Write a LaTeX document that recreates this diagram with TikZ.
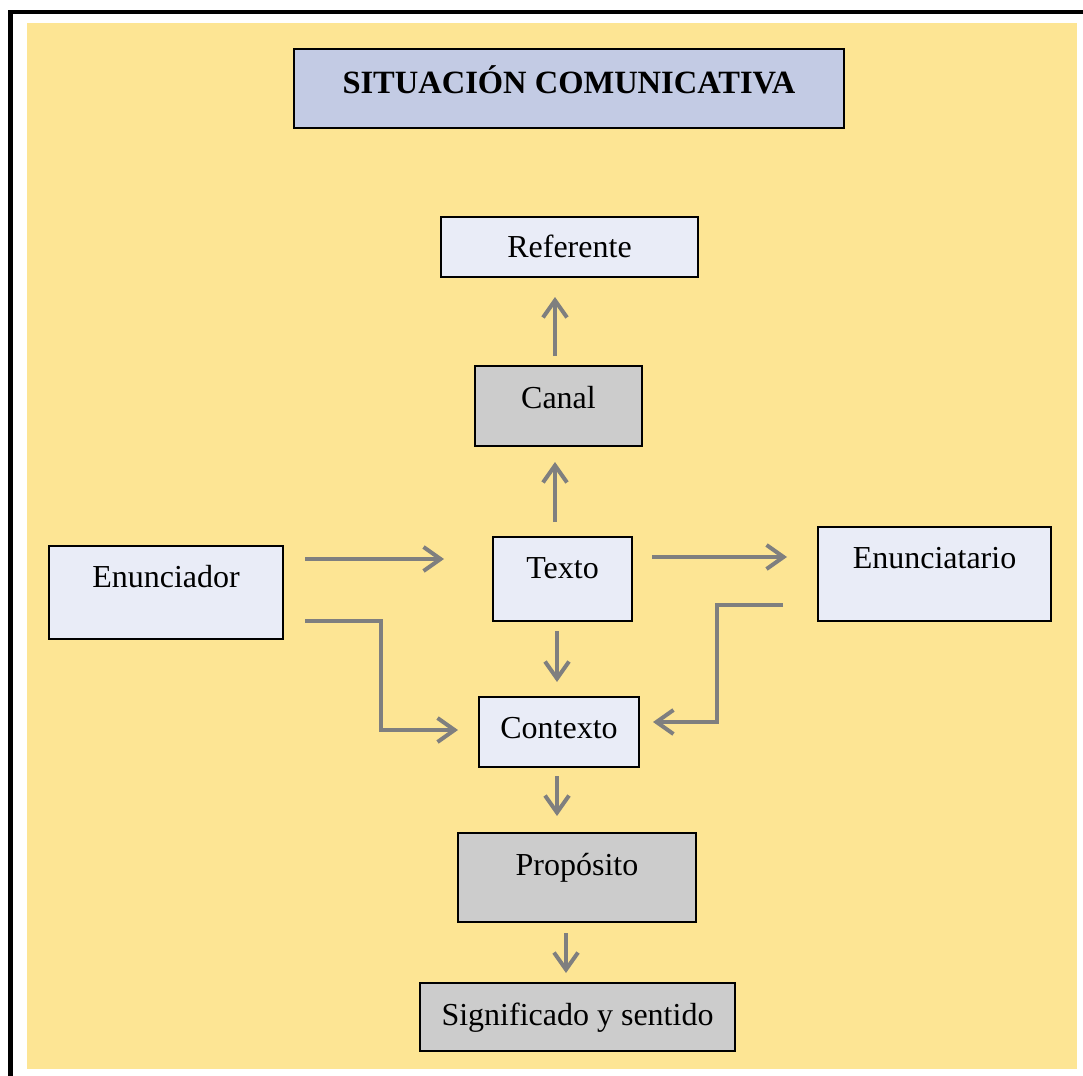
\documentclass[tikz,border=0pt]{standalone}
\usepackage{fontspec}
\setmainfont{Liberation Serif}
\usetikzlibrary{arrows.meta,calc}
\definecolor{bgyellow}{RGB}{253,229,148}
\definecolor{titleblue}{RGB}{195,203,228}
\definecolor{lightbox}{RGB}{233,236,247}
\definecolor{graybox}{RGB}{204,204,204}
\definecolor{arrowgray}{RGB}{127,127,127}
\tikzset{
  box/.style={draw=black, line width=2pt, inner sep=0pt, outer sep=0pt, anchor=base,
    font=\fontsize{32}{38}\selectfont, align=center},
  lbox/.style={box, fill=lightbox},
  gbox/.style={box, fill=graybox},
  tbox/.style={box, fill=titleblue, font=\fontsize{32.5}{38}\selectfont\bfseries},
  arr/.style={draw=arrowgray, line width=4pt,
    -{Straight Barb[length=17pt,width=24pt]}},
}
\begin{document}
\begin{tikzpicture}[x=1pt,y=-1pt]
  \useasboundingbox (0,0) rectangle (1083,1075);
  \fill[white] (0,0) rectangle (1083,1075);
  \draw[line width=4.5pt, black] (10.5,1080) -- (10.5,12) -- (1090,12);
  \fill[bgyellow] (27,23) rectangle (1077,1069);

  % boxes: anchor=base at (centre x, baseline)
  \node[tbox, minimum width=550pt, text height=45pt, text depth=34pt] (title) at (569,94) {SITUACIÓN COMUNICATIVA};
  \node[lbox, minimum width=257pt, text height=41pt, text depth=19pt] (ref) at (569.5,258) {Referente};
  \node[gbox, minimum width=167pt, text height=42pt, text depth=38pt] (canal) at (558.5,408) {Canal};
  \node[lbox, minimum width=139pt, text height=41pt, text depth=43pt] (texto) at (562.5,578) {Texto};
  \node[lbox, minimum width=234pt, text height=41pt, text depth=52pt] (enun) at (166,587) {Enunciador};
  \node[lbox, minimum width=233pt, text height=41pt, text depth=53pt] (enuntario) at (934.5,568) {Enunciatario};
  \node[lbox, minimum width=160pt, text height=41pt, text depth=29pt] (ctx) at (559,738) {Contexto};
  \node[gbox, minimum width=238pt, text height=42pt, text depth=47pt] (prop) at (577,875) {Propósito};
  \node[gbox, minimum width=315pt, text height=42pt, text depth=26pt] (sig) at (577.5,1025) {Significado y sentido};

  % vertical arrows
  \draw[arr] ($(canal.north)+(-3.5,-10)$) coordinate (a1) -- ($(a1 |- ref.south)+(0,20)$);
  \draw[arr] ($(texto.north)+(-7.5,-15)$) coordinate (a2) -- ($(a2 |- canal.south)+(0,16)$);
  \draw[arr] ($(texto.south)+(-5.5,10)$) coordinate (a3) -- ($(a3 |- ctx.north)+(0,-15)$);
  \draw[arr] ($(ctx.south)+(-2,9)$) coordinate (a4) -- ($(a4 |- prop.north)+(0,-17)$);
  \draw[arr] ($(prop.south)+(-11,11)$) coordinate (a5) -- ($(a5 |- sig.north)+(0,-10)$);

  % horizontal arrows
  \draw[arr] ($(enun.east)+(22,-33.5)$) coordinate (a6) -- ($(a6 -| texto.west)+(-49,0)$);
  \draw[arr] ($(texto.east)+(20,-22)$) coordinate (a7) -- ($(a7 -| enuntario.west)+(-31,0)$);

  % elbow arrows
  \draw[arr] ($(enun.east)+(22,28.5)$) -- ++(76,0) |- ($(ctx.west)+(-21,-2)$);
  \draw[arr] ($(enuntario.west)+(-35,31)$) -- ++(-66,0) |- ($(ctx.east)+(14,-10)$);
\end{tikzpicture}
\end{document}
